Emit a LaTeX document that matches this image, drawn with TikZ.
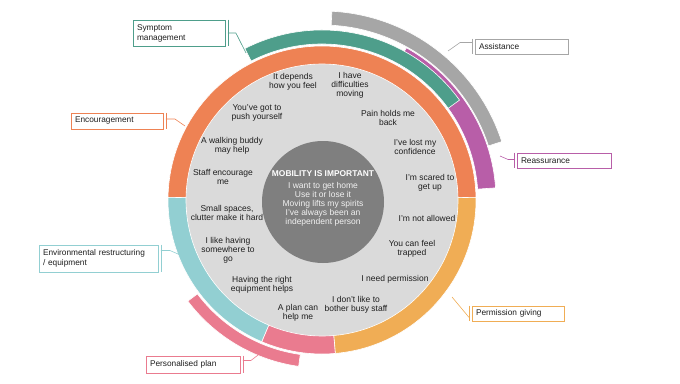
\documentclass[tikz,border=0pt]{standalone}
\usepackage{fontspec}
\setmainfont{Liberation Sans}
\definecolor{enc}{HTML}{EE8254}
\definecolor{sym}{HTML}{4E9E8B}
\definecolor{env}{HTML}{92CFD2}
\definecolor{pers}{HTML}{EA7B8F}
\definecolor{perm}{HTML}{F0AD55}
\definecolor{reas}{HTML}{B85EA8}
\definecolor{ass}{HTML}{A6A6A6}
\definecolor{disk}{HTML}{DADADA}
\definecolor{core}{HTML}{7F7F7F}
\definecolor{txt}{HTML}{1E1E1E}
\newcommand{\ringarc}[5]{\fill[#1,draw=white,line width=.6pt] (#2:#4) arc[start angle=#2,end angle=#3,radius=#4] -- (#3:#5) arc[start angle=#3,end angle=#2,radius=#5] -- cycle;}

\begin{document}
\begin{tikzpicture}[x=1pt,y=1pt,every node/.style={align=center,text=txt,font=\fontsize{8.5}{9}\selectfont},
  lbl/.style={draw=#1,fill=white,line width=.8pt,align=left,inner xsep=4pt,inner ysep=0pt,font=\fontsize{8.3}{10}\selectfont},
  lead/.style={draw=#1,line width=.6pt}]
\useasboundingbox (0,0) rectangle (680,-383);

\begin{scope}[shift={(322,-200)}]
\ringarc{ass}{18}{87}{175}{189}
\ringarc{reas}{4}{61}{156}{174}
\ringarc{sym}{36}{117}{156}{170}
\ringarc{pers}{217}{262}{156}{168}
\fill[disk] (0,0) circle[radius=136];
\ringarc{enc}{1}{179}{136}{154}
\ringarc{env}{179}{247}{136}{154}
\ringarc{pers}{247}{275}{136}{154}
\ringarc{perm}{275}{361}{136}{154}
\end{scope}
\fill[core] (323,-202) circle[radius=61];

\node[text=white,font=\bfseries\fontsize{8.4}{9}\selectfont] (0) at (323,-174) {MOBILITY IS IMPORTANT};
\node[text=white!95!black] (c) at (323,-204) {I want to get home\\Use it or lose it\\Moving lifts my spirits\\I’ve always been an\\independent person};

\node (q1) at (293,-82) {It depends\\how you feel};
\node (q2) at (350,-85) {I have\\difficulties\\moving};
\node (q3) at (388,-118) {Pain holds me\\back};
\node (q4) at (415,-147) {I’ve lost my\\confidence};
\node (q5) at (430,-183) {I’m scared to\\get up};
\node (q6) at (427,-218) {I’m not allowed};
\node (q7) at (412,-249) {You can feel\\trapped};
\node (q8) at (395,-279) {I need permission};
\node (q9) at (356,-305) {I don’t like to\\bother busy staff};
\node (q10) at (298,-313) {A plan can\\help me};
\node (q11) at (262,-285) {Having the right\\equipment helps};
\node (q12) at (228,-250) {I like having\\somewhere to\\go};
\node (q13) at (227,-213) {Small spaces,\\clutter make it hard};
\node (q14) at (223,-177) {Staff encourage\\me};
\node (q15) at (232,-146) {A walking buddy\\may help};
\node (q16) at (257,-113) {You’ve got to\\push yourself};

\node[lbl=sym,text width=84pt,minimum height=26pt] (1) at (179,-33) {Symptom\\management};
\node[lbl=ass,text width=85pt,minimum height=15pt] (2) at (521.5,-46.5) {Assistance};
\node[lbl=enc,text width=84pt,minimum height=16pt] (3) at (117,-121) {Encouragement};
\node[lbl=reas,text width=86pt,minimum height=15pt] (4) at (564,-160.5) {Reassurance};
\node[lbl=env,text width=111pt,minimum height=27pt] (5) at (98.5,-258.5) {Environmental restructuring\\/ equipment};
\node[lbl=pers,text width=86pt,minimum height=17pt] (6) at (193,-364.5) {Personalised plan};
\node[lbl=perm,text width=84pt,minimum height=15pt] (7) at (518,-313.5) {Permission giving};

\coordinate (s1) at (246,-53);
\coordinate (s2) at (448,-51);
\coordinate (s3) at (185,-126);
\coordinate (s4) at (500,-156);
\coordinate (s5) at (185,-257);
\coordinate (s6) at (262,-352);
\coordinate (s7) at (452,-297);

\draw[lead=sym] ([xshift=2.5pt]1.north east) -- ([xshift=2.5pt]1.south east);
\draw[lead=sym] ([xshift=2.5pt]1.east) -- ++(8,0) -- (s1);
\draw[lead=ass] ([xshift=-2.5pt]2.north west) -- ([xshift=-2.5pt]2.south west);
\draw[lead=ass] ([xshift=-2.5pt,yshift=4pt]2.west) -- ++(-12,0) -- (s2);
\draw[lead=enc] ([xshift=2.5pt]3.north east) -- ([xshift=2.5pt]3.south east);
\draw[lead=enc] ([xshift=2.5pt,yshift=2pt]3.east) -- ++(9,0) -- (s3);
\draw[lead=reas] ([xshift=-2.5pt]4.north west) -- ([xshift=-2.5pt]4.south west);
\draw[lead=reas] ([xshift=-2.5pt,yshift=1pt]4.west) -- ++(-6,0) -- (s4);
\draw[lead=env] ([xshift=2.5pt]5.north east) -- ([xshift=2.5pt]5.south east);
\draw[lead=env] ([xshift=2.5pt,yshift=8pt]5.east) -- ++(9,0) -- (s5);
\draw[lead=pers] ([xshift=2.5pt]6.north east) -- ([xshift=2.5pt]6.south east);
\draw[lead=pers] ([xshift=2.5pt,yshift=4pt]6.east) -- ++(8,0) -- (s6);
\draw[lead=perm] ([xshift=-2.5pt]7.north west) -- ([xshift=-2.5pt]7.south west);
\draw[lead=perm] ([xshift=-2.5pt,yshift=-4pt]7.west) -- (s7);

\end{tikzpicture}
\end{document}
